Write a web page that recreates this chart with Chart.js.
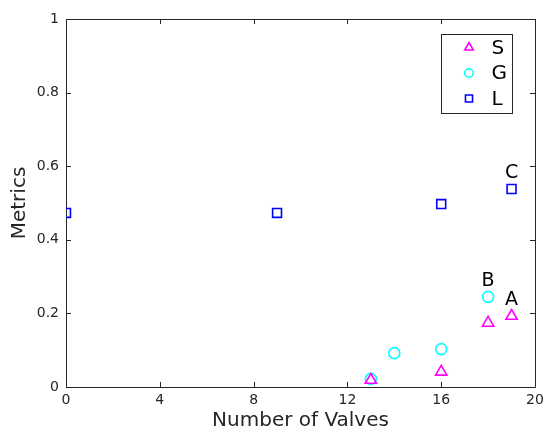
<!DOCTYPE html>
<html><head><meta charset="utf-8">
<script src="https://cdn.jsdelivr.net/npm/chart.js@4/dist/chart.umd.min.js"></script>
<style>html,body{margin:0;padding:0;background:#fff}canvas{display:block}</style>
</head><body>
<canvas id="c" width="544" height="430"></canvas>
<script>
const seriesNames = ['S', 'G', 'L'];
const sX = [13, 16, 18, 19];
const sY = [0.019, 0.041, 0.174, 0.193];
const gX = [13, 14, 16, 18];
const gY = [0.022, 0.092, 0.103, 0.245];
const lX = [0, 9, 16, 19];
const lY = [0.473, 0.473, 0.497, 0.538];
const xTicks = [0, 4, 8, 12, 16, 20];
const yTicks = [0, 0.2, 0.4, 0.6, 0.8, 1];
// annotation labels: [text, series index, point index]
const annotations = [['A', 0, 3], ['B', 1, 3], ['C', 2, 3]];

const FONT = 'DejaVu Sans';
const AX = '#262626';
const toPts = (xs, ys) => xs.map((x, i) => ({x: x, y: ys[i]}));

const styles = [
  {pointStyle: 'triangle', radius: 6.5, legendRadius: 5, color: '#ff00ff'},
  {pointStyle: 'circle', radius: 5.5, legendRadius: 4.3, color: '#00ffff'},
  {pointStyle: 'rect', radius: 6.3, legendRadius: 5, color: '#0000ff'}
];
const allData = [toPts(sX, sY), toPts(gX, gY), toPts(lX, lY)];

const framePlugin = {
  id: 'frame',
  beforeDatasetsDraw(chart) {
    const {ctx, chartArea: a, scales} = chart;
    ctx.save();
    ctx.strokeStyle = AX;
    ctx.lineWidth = 1;
    ctx.beginPath();
    ctx.rect(Math.round(a.left) + 0.5, Math.round(a.top) + 0.5, Math.round(a.right - a.left), Math.round(a.bottom - a.top));
    ctx.stroke();
    ctx.beginPath();
    const tl = 5;
    xTicks.forEach(v => {
      const px = Math.round(scales.x.getPixelForValue(v)) + 0.5;
      ctx.moveTo(px, a.bottom); ctx.lineTo(px, a.bottom - tl);
      ctx.moveTo(px, a.top); ctx.lineTo(px, a.top + tl);
    });
    yTicks.forEach(v => {
      const py = Math.round(scales.y.getPixelForValue(v)) + 0.5;
      ctx.moveTo(a.left, py); ctx.lineTo(a.left + tl, py);
      ctx.moveTo(a.right, py); ctx.lineTo(a.right - tl, py);
    });
    ctx.stroke();
    ctx.restore();
  },
  afterDatasetsDraw(chart) {
    const {ctx, chartArea: a, scales} = chart;
    ctx.save();
    // annotations
    ctx.fillStyle = '#000';
    ctx.font = '19px "' + FONT + '"';
    ctx.textAlign = 'center';
    ctx.textBaseline = 'middle';
    annotations.forEach(([t, si, pi]) => {
      const p = allData[si][pi];
      ctx.fillText(t, scales.x.getPixelForValue(p.x), scales.y.getPixelForValue(p.y) - 16);
    });
    // legend
    const bx = Math.round(a.right) - 93.5, by = Math.round(a.top) + 15.5, bw = 71, bh = 79;
    ctx.fillStyle = '#fff';
    ctx.fillRect(bx, by, bw, bh);
    ctx.strokeStyle = AX;
    ctx.lineWidth = 1;
    ctx.strokeRect(bx, by, bw, bh);
    ctx.font = '20px "' + FONT + '"';
    ctx.textAlign = 'left';
    seriesNames.forEach((n, i) => {
      const y = by + 13 + i * 25.5;
      const st = styles[i];
      ctx.strokeStyle = st.color;
      ctx.fillStyle = 'rgba(0,0,0,0)';
      ctx.lineWidth = 1.6;
      Chart.helpers.drawPoint(ctx, {pointStyle: st.pointStyle, radius: st.legendRadius, rotation: 0, borderWidth: 1.6}, bx + 27.5, y);
      ctx.fillStyle = '#000';
      ctx.fillText(n, bx + 50, y + 1);
    });
    ctx.restore();
  }
};

new Chart(document.getElementById('c'), {
  type: 'scatter',
  data: {
    datasets: seriesNames.map((n, i) => ({
      label: n,
      data: allData[i],
      pointStyle: styles[i].pointStyle,
      pointRadius: styles[i].radius,
      pointHoverRadius: styles[i].radius,
      borderColor: styles[i].color,
      backgroundColor: 'rgba(0,0,0,0)',
      pointBorderWidth: 1.6,
      showLine: false
    }))
  },
  options: {
    responsive: false,
    animation: false,
    events: [],
    layout: {padding: {top: 19, right: 9, left: 0, bottom: 0}},
    plugins: {legend: {display: false}, tooltip: {enabled: false}},
    scales: {
      x: {
        type: 'linear', min: 0, max: 20,
        afterBuildTicks: s => { s.ticks = xTicks.map(v => ({value: v})); },
        afterFit: s => { s.height = 43; s.paddingLeft = 0; s.paddingRight = 0; },
        grid: {display: false, drawTicks: false},
        border: {display: false},
        ticks: {color: AX, font: {family: FONT, size: 14}, padding: 5, maxRotation: 0,
          callback: v => String(v)},
        title: {display: true, text: 'Number of Valves', color: AX,
          font: {family: FONT, size: 20, lineHeight: 1}, padding: {top: 0, bottom: -1}}
      },
      y: {
        type: 'linear', min: 0, max: 1,
        afterBuildTicks: s => { s.ticks = yTicks.map(v => ({value: v})); },
        afterFit: s => { s.width = 66; s.paddingTop = 0; s.paddingBottom = 0; },
        grid: {display: false, drawTicks: false},
        border: {display: false},
        ticks: {color: AX, font: {family: FONT, size: 14}, padding: 7,
          callback: v => String(Math.round(v * 10) / 10)},
        title: {display: true, text: 'Metrics', color: AX,
          font: {family: FONT, size: 20, lineHeight: 1}, padding: {top: 10, bottom: 0}}
      }
    }
  },
  plugins: [framePlugin]
});
</script>
</body></html>
